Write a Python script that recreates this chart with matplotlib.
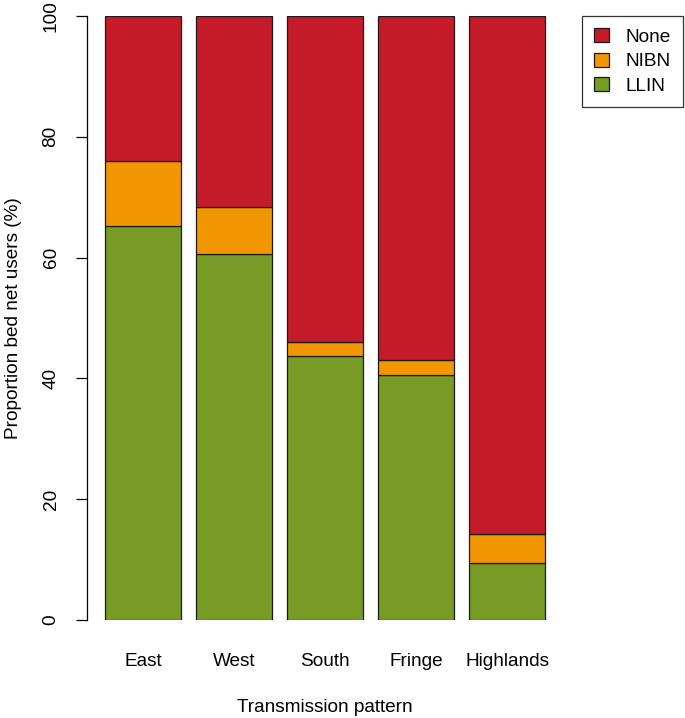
import matplotlib.pyplot as plt
import numpy as np

regions = ["East", "West", "South", "Fringe", "Highlands"]
llin = [65.2, 60.6, 43.7, 40.5, 9.5]
nibn = [10.8, 7.8, 2.3, 2.5, 4.7]
none = [24.0, 31.6, 54.0, 57.0, 85.8]

col_none = "#C51A28"
col_nibn = "#F29600"
col_llin = "#789B25"

plt.rcParams['font.family'] = ['Liberation Sans', 'DejaVu Sans']
fs = 13.7

fig = plt.figure(figsize=(6.85, 7.18), dpi=100)
ax = fig.add_axes([87.4 / 685, 98 / 718, 475.6 / 685, 604 / 718])

# R barplot style positions: width 1, space 0.2
x = 0.2 + np.arange(len(regions)) * 1.2 + 0.5
llin = np.array(llin)
nibn = np.array(nibn)
none = np.array(none)

kw = dict(width=1.0, edgecolor="#1a1a1a", linewidth=0.9)
b1 = ax.bar(x, llin, color=col_llin, **kw)
b2 = ax.bar(x, nibn, bottom=llin, color=col_nibn, **kw)
b3 = ax.bar(x, none, bottom=llin + nibn, color=col_none, **kw)

ax.set_xlim(-0.032, 6.232)
ax.set_ylim(0, 100)
for s in ["top", "right", "bottom"]:
    ax.spines[s].set_visible(False)
ax.spines["left"].set_linewidth(0.9)

ax.set_yticks([0, 20, 40, 60, 80, 100])
ax.set_yticklabels(["0", "20", "40", "60", "80", "100"], rotation=90, va="center")
ax.tick_params(axis="y", length=8, width=0.9, labelsize=fs, pad=12)
ax.set_xticks(x)
ax.set_xticklabels(regions)
ax.tick_params(axis="x", length=0, labelsize=fs, pad=24)

ax.set_ylabel("Proportion bed net users (%)", fontsize=fs, labelpad=15)
ax.set_xlabel("Transmission pattern", fontsize=fs, labelpad=21)

leg = fig.legend([b3, b2, b1], ["None", "NIBN", "LLIN"],
                 loc="upper left", bbox_to_anchor=(582 / 685, 1 - 16 / 718),
                 borderaxespad=0, fontsize=fs, frameon=True, fancybox=False,
                 handlelength=0.75, handleheight=0.75, borderpad=0.65,
                 labelspacing=0.35, handletextpad=0.9)
leg.get_frame().set_edgecolor("black")
leg.get_frame().set_linewidth(0.9)

fig.savefig("out.png", dpi=100)
